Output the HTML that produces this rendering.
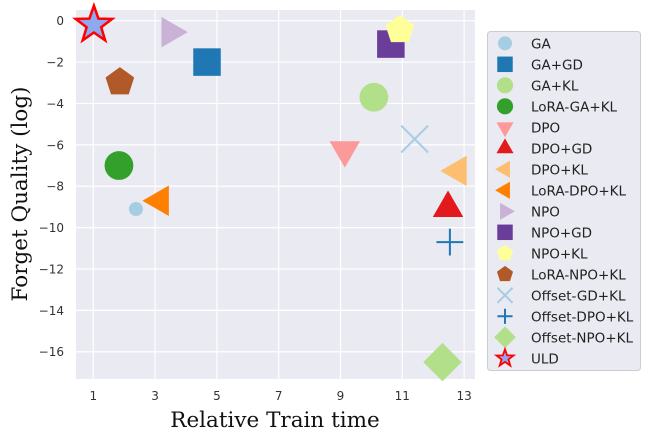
<!DOCTYPE html>
<html><head><meta charset="utf-8"><style>
body{margin:0;background:#fff;}
svg{display:block;font-family:"DejaVu Sans","Liberation Sans",sans-serif;}
</style></head><body>
<svg id="chart" width="650" height="441" xmlns="http://www.w3.org/2000/svg">
<rect x="76" y="10" width="399" height="369" fill="#eaeaf2"/>
<g id="grid"></g>
<g id="ticks"></g>
<g id="marks"></g>
<text x="275" y="427" text-anchor="middle" font-family="'DejaVu Serif',serif" font-size="21.5" fill="#111">Relative Train time</text>
<text transform="translate(27,194) rotate(-90)" text-anchor="middle" font-family="'DejaVu Serif',serif" font-size="21.5" fill="#111">Forget Quality (log)</text>
<rect x="487.5" y="31.5" width="153" height="339" rx="3" fill="#eaeaf2" stroke="#cccccc"/>
<g id="legend"></g>
</svg>
<script>
const names=["GA","GA+GD","GA+KL","LoRA-GA+KL","DPO","DPO+GD","DPO+KL","LoRA-DPO+KL","NPO","NPO+GD","NPO+KL","LoRA-NPO+KL","Offset-GD+KL","Offset-DPO+KL","Offset-NPO+KL","ULD"];
const xVals=[2.38,4.68,10.08,1.83,9.14,12.48,12.8,3.16,3.49,10.63,10.92,1.86,11.4,12.54,12.3,1.02];
const yVals=[-9.1,-2.0,-3.7,-7.0,-6.25,-9.06,-7.26,-8.7,-0.55,-1.13,-0.45,-2.97,-5.72,-10.7,-16.5,-0.2];
const xTicks=[1,3,5,7,9,11,13];
const yTicks=[0,-2,-4,-6,-8,-10,-12,-14,-16];
const colors=["#a6cee3","#1f78b4","#b2df8a","#33a02c","#fb9a99","#e31a1c","#fdbf6f","#ff7f00","#cab2d6","#6a3d9a","#ffff99","#b15928","#a6cee3","#1f78b4","#b2df8a","#8fa9f0"];
const shapes=["smallcircle","square","circle","circle","tridown","triup","trileft","trileft","triright","square","pentagon","pentagon","x","plus","diamond","star"];
const NS="http://www.w3.org/2000/svg";
function sx(v){return 93.3+(v-1)*30.9;}
function sy(v){return 20.7-v*20.69;}
function mk(tag,attrs,parent){const e=document.createElementNS(NS,tag);for(const k in attrs)e.setAttribute(k,attrs[k]);parent.appendChild(e);return e;}
function poly(n,r,rot){let p=[];for(let i=0;i<n;i++){const a=rot+i*2*Math.PI/n;p.push((r*Math.cos(a)).toFixed(2)+","+(r*Math.sin(a)).toFixed(2));}return p.join(" ");}
function starPts(r){let p=[];for(let i=0;i<10;i++){const rr=i%2?r*0.4:r;const a=-Math.PI/2+i*Math.PI/5;p.push((rr*Math.cos(a)).toFixed(2)+","+(rr*Math.sin(a)).toFixed(2));}return p.join(" ");}
function drawMarker(g,shape,color,s,sw){
  if(shape==="smallcircle")return mk("circle",{r:s*0.22,fill:color},g);
  if(shape==="circle")return mk("circle",{r:s*0.45,fill:color},g);
  if(shape==="square")return mk("rect",{x:-s*0.43,y:-s*0.43,width:s*0.86,height:s*0.86,fill:color},g);
  if(shape==="tridown")return mk("polygon",{points:poly(3,s*0.55,Math.PI/2),fill:color},g);
  if(shape==="triup")return mk("polygon",{points:poly(3,s*0.55,-Math.PI/2),fill:color},g);
  if(shape==="trileft")return mk("polygon",{points:poly(3,s*0.55,Math.PI),fill:color},g);
  if(shape==="triright")return mk("polygon",{points:poly(3,s*0.55,0),fill:color},g);
  if(shape==="pentagon")return mk("polygon",{points:poly(5,s*0.47,-Math.PI/2),fill:color},g);
  if(shape==="diamond")return mk("polygon",{points:poly(4,s*0.6,0),fill:color},g);
  if(shape==="x"){const q=s*0.42;mk("path",{d:`M${-q},${-q}L${q},${q}M${-q},${q}L${q},${-q}`,stroke:color,"stroke-width":2,fill:"none"},g);return;}
  if(shape==="plus"){const q=s*0.42;mk("path",{d:`M${-q},0L${q},0M0,${-q}L0,${q}`,stroke:color,"stroke-width":2,fill:"none"},g);return;}
  if(shape==="star")return mk("polygon",{points:starPts(s*0.6),fill:color,stroke:"#ff0000","stroke-width":sw,"stroke-linejoin":"miter"},g);
}
const grid=document.getElementById("grid"),ticks=document.getElementById("ticks"),marks=document.getElementById("marks"),legend=document.getElementById("legend");
xTicks.forEach(t=>{
  const l=mk("line",{x1:sx(t),x2:sx(t),y1:10,y2:379,stroke:"#fff","stroke-width":1.2},grid);
  
  
  const tx=mk("text",{x:sx(t),y:400,"text-anchor":"middle","font-size":12,fill:"#333"},ticks);tx.textContent=t;
  
  
});
yTicks.forEach(t=>{
  const l=mk("line",{x1:76,x2:475,y1:sy(t),y2:sy(t),stroke:"#fff","stroke-width":1.2},grid);
  
  
  const tx=mk("text",{x:64,y:sy(t)+4.5,"text-anchor":"end","font-size":12,fill:"#333"},ticks);tx.textContent=(t<0?"\u2212"+(-t):t);
  
  
});
names.forEach((n,i)=>{
  const g=mk("g",{transform:`translate(${sx(xVals[i])},${sy(yVals[i])})`},marks);
  
  
  drawMarker(g,shapes[i],colors[i],32,2.5);
  const ly=43.3+i*21;
  const lg=mk("g",{transform:`translate(505,${ly})`},legend);
  
  
  drawMarker(lg,shapes[i],colors[i],shapes[i]==="smallcircle"?32:(shapes[i]==="star"?15:18),1.8);
  const tx=mk("text",{x:531,y:ly+5,"font-size":13.5,fill:"#222"},legend);tx.textContent=n;
  
  
});
</script>
</body></html>
